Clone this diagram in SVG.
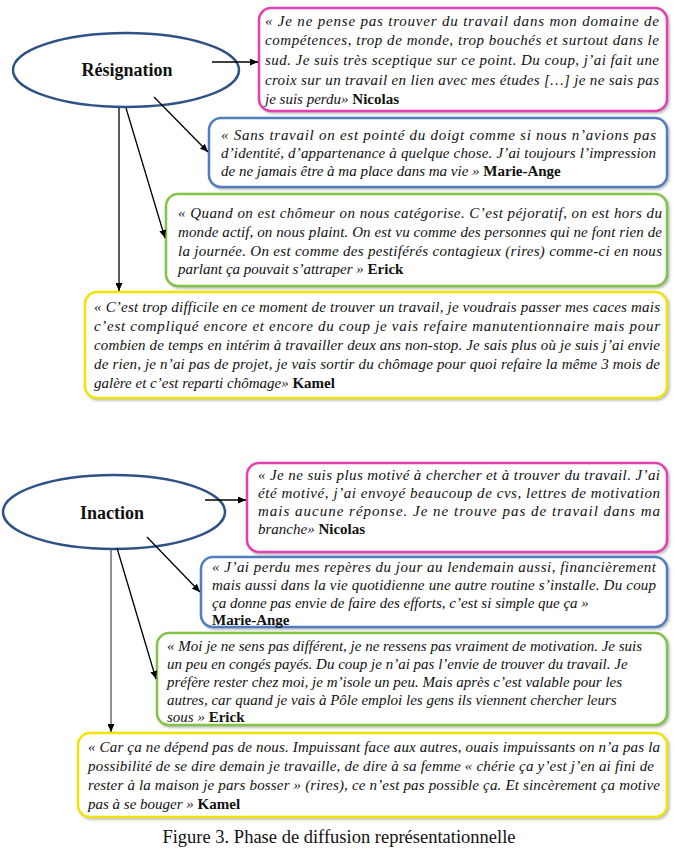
<svg xmlns="http://www.w3.org/2000/svg" width="675" height="850" viewBox="0 0 675 850">
<defs>
<style>
.q{font-family:"Liberation Serif","Times New Roman",serif;font-style:italic;font-size:15px;fill:#111}
.n{font-style:normal;font-weight:bold}
.lbl{font-family:"Liberation Serif","Times New Roman",serif;font-weight:bold;font-size:18px;text-anchor:middle;fill:#111}
.cap{font-family:"Liberation Serif","Times New Roman",serif;font-size:18.5px;text-anchor:middle;fill:#111}
.box{fill:#fff;stroke-width:2.5;filter:url(#sh)}
.pink{stroke:#e23fae}
.blue{stroke:#4f7fbe}
.green{stroke:#83c445}
.yellow{stroke:#f0e400}
.ell{fill:#fff;stroke:#2e5287;stroke-width:2.5}
.conn line{stroke:#000;stroke-width:1.3;marker-end:url(#ah)}
</style>
<filter id="sh" x="-5%" y="-5%" width="110%" height="120%">
<feDropShadow dx="1.5" dy="1.5" stdDeviation="1" flood-color="#888" flood-opacity="0.6"/>
</filter>
<marker id="ah" markerWidth="8" markerHeight="7" refX="8" refY="3.5" orient="auto" markerUnits="userSpaceOnUse">
<path d="M0,0 L8,3.5 L0,7 z" fill="#000"/>
</marker>
</defs>
<rect width="675" height="850" fill="#fff"/>

<g id="resignation">
<ellipse class="ell" cx="126" cy="70" rx="113" ry="37"/>
<text class="lbl" x="127" y="76">Résignation</text>
</g>

<g id="r-nicolas">
<rect class="box pink" x="259" y="8" width="408" height="103" rx="12"/>
<text class="q" x="265" y="26" textLength="394" lengthAdjust="spacing">« Je ne pense pas trouver du travail dans mon domaine de</text>
<text class="q" x="265" y="45" textLength="394" lengthAdjust="spacing">compétences, trop de monde, trop bouchés et surtout dans le</text>
<text class="q" x="265" y="65" textLength="394" lengthAdjust="spacing">sud. Je suis très sceptique sur ce point.  Du coup, j’ai fait une</text>
<text class="q" x="265" y="85" textLength="394" lengthAdjust="spacing">croix sur un travail en lien avec mes études […] je ne sais pas</text>
<text class="q" x="265" y="104">je suis perdu» <tspan class="n">Nicolas</tspan></text>
</g>

<g id="r-marie-ange">
<rect class="box blue" x="209" y="118" width="458" height="69" rx="12"/>
<text class="q" x="221" y="140" textLength="435" lengthAdjust="spacing">« Sans travail on est pointé du doigt comme si nous n’avions pas</text>
<text class="q" x="221" y="158" textLength="435" lengthAdjust="spacing">d’identité, d’appartenance à quelque chose. J’ai toujours l’impression</text>
<text class="q" x="221" y="176">de ne jamais être à ma place dans ma vie »  <tspan class="n">Marie-Ange</tspan></text>
</g>

<g id="r-erick">
<rect class="box green" x="166" y="194" width="501" height="92" rx="12"/>
<text class="q" x="178" y="218" textLength="484" lengthAdjust="spacing">«  Quand on est chômeur on nous catégorise. C’est péjoratif, on est hors du</text>
<text class="q" x="178" y="237" textLength="484" lengthAdjust="spacing">monde actif, on nous plaint. On est vu comme des personnes qui ne font rien de</text>
<text class="q" x="178" y="256" textLength="484" lengthAdjust="spacing">la journée.  On est comme des pestiférés contagieux (rires) comme-ci en nous</text>
<text class="q" x="178" y="274">parlant ça pouvait s’attraper » <tspan class="n">Erick</tspan></text>
</g>

<g id="r-kamel">
<rect class="box yellow" x="85" y="292" width="582" height="106" rx="12"/>
<text class="q" x="94" y="312" textLength="566" lengthAdjust="spacing">« C’est trop difficile en ce moment de trouver un travail, je voudrais passer mes caces mais</text>
<text class="q" x="94" y="331" textLength="566" lengthAdjust="spacing">c’est compliqué encore et encore du coup je vais refaire manutentionnaire mais pour</text>
<text class="q" x="94" y="350" textLength="566" lengthAdjust="spacing">combien de temps en intérim à travailler deux ans non-stop. Je sais plus où je suis j’ai envie</text>
<text class="q" x="94" y="369" textLength="566" lengthAdjust="spacing">de rien, je n’ai pas de projet, je vais sortir du chômage pour quoi refaire la même 3 mois de</text>
<text class="q" x="94" y="388">galère et c’est reparti chômage» <tspan class="n">Kamel</tspan></text>
</g>

<g id="inaction">
<ellipse class="ell" cx="114" cy="512" rx="111" ry="37"/>
<text class="lbl" x="112" y="519">Inaction</text>
</g>

<g id="i-nicolas">
<rect class="box pink" x="247" y="463" width="420" height="89" rx="12"/>
<text class="q" x="258" y="480" textLength="402" lengthAdjust="spacing">« Je ne suis plus motivé à chercher et à trouver du travail. J’ai</text>
<text class="q" x="258" y="498" textLength="402" lengthAdjust="spacing">été motivé, j’ai envoyé beaucoup de cvs, lettres de motivation</text>
<text class="q" x="258" y="516" textLength="402" lengthAdjust="spacing">mais aucune réponse. Je ne trouve pas de travail dans ma</text>
<text class="q" x="258" y="534">branche» <tspan class="n">Nicolas</tspan></text>
</g>

<g id="i-marie-ange">
<rect class="box blue" x="201" y="557" width="466" height="70" rx="12"/>
<text class="q" x="212" y="572" textLength="444" lengthAdjust="spacing">« J’ai perdu mes repères du jour au lendemain aussi, financièrement</text>
<text class="q" x="212" y="590" textLength="444" lengthAdjust="spacing">mais aussi dans la vie quotidienne une autre routine s’installe. Du coup</text>
<text class="q" x="212" y="608">ça donne pas envie de faire des efforts, c’est si simple que ça »</text>
<text class="q" x="212" y="625"><tspan class="n">Marie-Ange</tspan></text>
</g>

<g id="i-erick">
<rect class="box green" x="157" y="633" width="510" height="92" rx="12"/>
<text class="q" x="167" y="651">« Moi je ne sens pas différent, je ne ressens pas vraiment de motivation. Je suis</text>
<text class="q" x="167" y="669">un peu en congés payés. Du coup je n’ai pas l’envie de trouver du travail. Je</text>
<text class="q" x="167" y="687">préfère rester chez moi, je m’isole un peu. Mais après c’est valable pour les</text>
<text class="q" x="167" y="705">autres, car quand je vais à Pôle  emploi les gens ils viennent chercher leurs</text>
<text class="q" x="167" y="722">sous » <tspan class="n">Erick</tspan></text>
</g>

<g id="i-kamel">
<rect class="box yellow" x="78" y="733" width="589" height="84" rx="12"/>
<text class="q" x="88" y="752" textLength="572" lengthAdjust="spacing">« Car ça ne dépend pas de nous. Impuissant face aux autres, ouais impuissants on n’a pas la</text>
<text class="q" x="88" y="771" textLength="566" lengthAdjust="spacing">possibilité de se dire demain je travaille, de dire à sa femme « chérie ça y’est j’en ai fini de</text>
<text class="q" x="88" y="790" textLength="572" lengthAdjust="spacing">rester à la maison je pars bosser » (rires), ce n’est pas possible ça. Et sincèrement ça motive</text>
<text class="q" x="88" y="809">pas à se bouger » <tspan class="n">Kamel</tspan></text>
</g>

<g id="connectors" class="conn">
<line x1="212" y1="62" x2="258" y2="62"/>
<line x1="154" y1="97" x2="208" y2="152"/>
<line x1="126" y1="108" x2="165" y2="238"/>
<line x1="119" y1="108" x2="119" y2="291"/>
<line x1="205" y1="500" x2="246" y2="500"/>
<line x1="147" y1="537" x2="200" y2="592"/>
<line x1="117" y1="548" x2="156" y2="679"/>
<line x1="111" y1="548" x2="111" y2="732" style="stroke:#555"/>
</g>

<text class="cap" x="339" y="843">Figure 3. Phase de diffusion représentationnelle</text>
</svg>
